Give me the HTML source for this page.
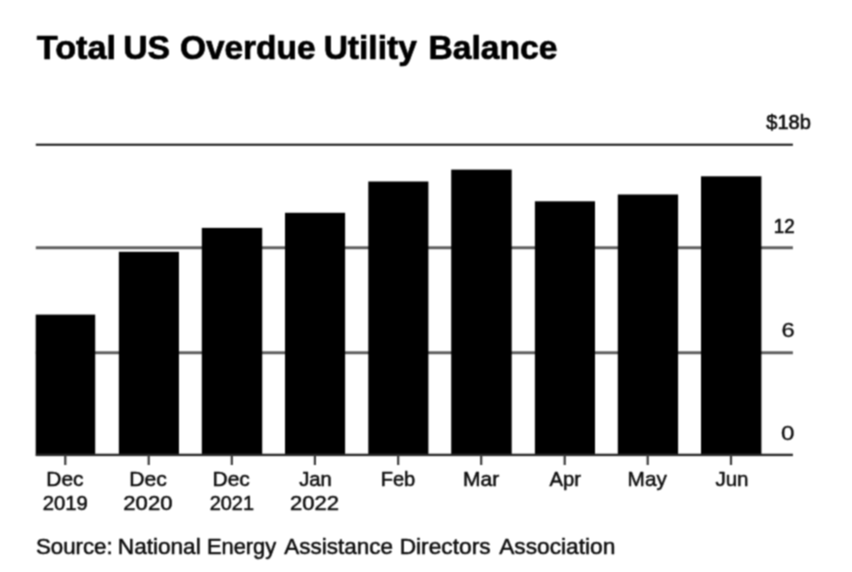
<!DOCTYPE html>
<html lang="en"><head><meta charset="utf-8"><title>Total US Overdue Utility Balance</title>
<style>
html,body{margin:0;padding:0;background:#fff;}
body{width:852px;height:572px;overflow:hidden;font-family:"Liberation Sans",sans-serif;}
svg{display:block;}
text{font-family:"Liberation Sans",sans-serif;fill:#0c0c0c;stroke:#0c0c0c;stroke-width:0.5px;stroke-linejoin:round;}
.x{stroke-width:0.5px;}
.y{stroke-width:0.6px;}
.z{stroke-width:0.3px;}
.t{fill:#000;stroke:#000;stroke-width:0.7px;}
</style></head><body>
<svg width="852" height="572" viewBox="0 0 852 572">
<defs><filter id="soft" filterUnits="userSpaceOnUse" x="0" y="0" width="852" height="572" color-interpolation-filters="sRGB">
<feConvolveMatrix order="3" kernelMatrix="0.0576 0.1248 0.0576 0.1248 0.2704 0.1248 0.0576 0.1248 0.0576" divisor="1" edgeMode="duplicate" preserveAlpha="true"/>
</filter></defs>
<g filter="url(#soft)">
<rect width="852" height="572" fill="#fff"/>
<g>
<text class="t" transform="translate(36.80 59.1) scale(1.0259 1)" font-size="33.4" font-weight="bold">Total </text>
<text class="t" transform="translate(123.13 59.1) scale(1.0103 1)" font-size="33.4" font-weight="bold">US </text>
<text class="t" transform="translate(179.90 59.1) scale(1.0011 1)" font-size="33.4" font-weight="bold">Overdue </text>
<text class="t" transform="translate(323.64 59.1) scale(1.0049 1)" font-size="33.4" font-weight="bold">Utility </text>
<text class="t" transform="translate(428.44 59.1) scale(1.0072 1)" font-size="33.4" font-weight="bold">Balance</text>
</g>
<g>
<rect x="35.8" y="143.7" width="757.1" height="2.0" fill="#101010"/>
<rect x="35.8" y="246.3" width="757.1" height="2.9" fill="#5c5c5c"/>
<rect x="35.8" y="351.3" width="757.1" height="2.9" fill="#5c5c5c"/>
</g>
<g fill="#000">
<rect x="35.7" y="314.6" width="59.5" height="141.20"/>
<rect x="118.85" y="251.8" width="60.1" height="204.00"/>
<rect x="201.8" y="227.9" width="60.4" height="227.90"/>
<rect x="285.0" y="212.8" width="60.1" height="243.00"/>
<rect x="368.3" y="181.5" width="60.1" height="274.30"/>
<rect x="451.2" y="169.6" width="60.5" height="286.20"/>
<rect x="534.9" y="201.3" width="60.1" height="254.50"/>
<rect x="617.8" y="194.5" width="60.3" height="261.30"/>
<rect x="701.0" y="176.3" width="60.4" height="279.50"/>
</g>
<rect x="35.8" y="453.7" width="757.1" height="2.4" fill="#2a2a2a"/>
<g fill="#3a3a3a">
<rect x="64.2" y="455" width="2.2" height="10"/>
<rect x="147.6" y="455" width="2.2" height="10"/>
<rect x="230.7" y="455" width="2.2" height="10"/>
<rect x="313.8" y="455" width="2.2" height="10"/>
<rect x="397.1" y="455" width="2.2" height="10"/>
<rect x="480.1" y="455" width="2.2" height="10"/>
<rect x="563.6" y="455" width="2.2" height="10"/>
<rect x="646.6" y="455" width="2.2" height="10"/>
<rect x="729.9" y="455" width="2.2" height="10"/>
</g>
<text class="x" transform="translate(46.34 486.4) scale(1.0412 1)" font-size="20.1">Dec</text>
<text class="x" transform="translate(42.64 509.9) scale(1.0104 1)" font-size="20.1">2019</text>
<text class="x" transform="translate(129.33 486.4) scale(1.0500 1)" font-size="20.1">Dec</text>
<text class="x" transform="translate(123.33 509.9) scale(1.1000 1)" font-size="20.1">2020</text>
<text class="x" transform="translate(212.59 486.4) scale(1.0426 1)" font-size="20.1">Dec</text>
<text class="x" transform="translate(209.66 509.9) scale(0.9931 1)" font-size="20.1">2021</text>
<text class="x" transform="translate(299.15 486.4) scale(1.0063 1)" font-size="20.1">Jan</text>
<text class="x" transform="translate(290.08 509.9) scale(1.0971 1)" font-size="20.1">2022</text>
<text class="x" transform="translate(380.65 486.4) scale(0.9985 1)" font-size="20.1">Feb</text>
<text class="x" transform="translate(463.08 486.4) scale(1.0439 1)" font-size="20.1">Mar</text>
<text class="x" transform="translate(549.40 486.4) scale(1.0063 1)" font-size="20.1">Apr</text>
<text class="x" transform="translate(627.60 486.4) scale(1.0327 1)" font-size="20.1">May</text>
<text class="x" transform="translate(715.40 486.4) scale(1.0222 1)" font-size="20.1">Jun</text>
<text class="y" transform="translate(766.30 128.6) scale(1.0023 1)" font-size="20.0">$18b</text>
<text class="y" transform="translate(773.83 232.8) scale(0.9383 1)" font-size="20.0">12</text>
<text class="z" transform="translate(781.41 337.3) scale(1.1897 1)" font-size="20.0">6</text>
<text class="z" transform="translate(781.09 440.2) scale(1.2100 1)" font-size="20.0">0</text>
<g>
<text transform="translate(35.93 553.8) scale(1.0227 1)" font-size="21.8">Source: </text>
<text transform="translate(117.85 553.8) scale(1.0356 1)" font-size="21.8">National </text>
<text transform="translate(206.89 553.8) scale(1.0037 1)" font-size="21.8">Energy </text>
<text transform="translate(284.36 553.8) scale(1.0324 1)" font-size="21.8">Assistance </text>
<text transform="translate(399.64 553.8) scale(1.0428 1)" font-size="21.8">Directors </text>
<text transform="translate(499.16 553.8) scale(1.0425 1)" font-size="21.8">Association</text>
</g>
</g>
</svg>
</body></html>
